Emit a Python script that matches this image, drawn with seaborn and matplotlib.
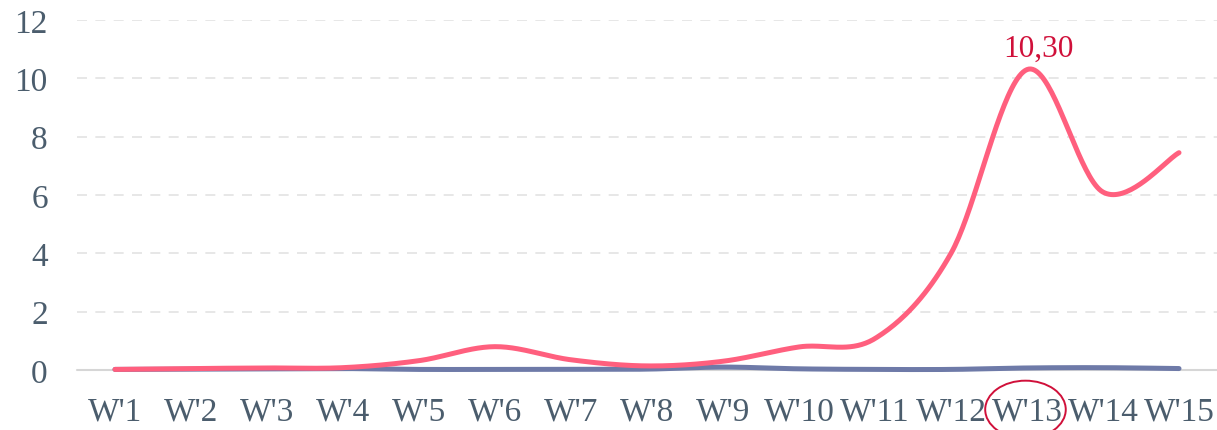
import numpy as np
import pandas as pd
import matplotlib
matplotlib.use("Agg")
import matplotlib.pyplot as plt
from matplotlib.patches import Ellipse
import seaborn as sns

weeks = ["W'1", "W'2", "W'3", "W'4", "W'5", "W'6", "W'7", "W'8",
         "W'9", "W'10", "W'11", "W'12", "W'13", "W'14", "W'15"]
series_pink = [0.02, 0.05, 0.07, 0.08, 0.32, 0.80, 0.35, 0.14,
               0.30, 0.79, 1.08, 4.00, 10.30, 6.10, 7.45]
series_blue = [0.02, 0.03, 0.04, 0.05, 0.02, 0.02, 0.02, 0.03,
               0.10, 0.04, 0.02, 0.02, 0.07, 0.08, 0.05]
y_ticks = [0, 2, 4, 6, 8, 10, 12]
peak_label = "10,30"
peak_index = 12

PINK = "#ff5f7e"
BLUE = "#6e7aa8"
TEXT = "#4b5d6d"
RED = "#d0103a"


def smooth(values, steps=40):
    """Catmull-Rom style smoothing through the given points."""
    y = np.asarray(values, dtype=float)
    x = np.arange(len(y), dtype=float)
    px = np.concatenate([[x[0]], x, [x[-1]]])
    py = np.concatenate([[y[0]], y, [y[-1]]])
    xs, ys = [], []
    for i in range(1, len(px) - 2):
        p0, p1, p2, p3 = ((px[j], py[j]) for j in range(i - 1, i + 3))
        c1 = (p1[0] + (p2[0] - p0[0]) / 6, p1[1] + (p2[1] - p0[1]) / 6)
        c2 = (p2[0] - (p3[0] - p1[0]) / 6, p2[1] - (p3[1] - p1[1]) / 6)
        t = np.linspace(0, 1, steps, endpoint=(i == len(px) - 3))
        b0, b1, b2, b3 = (1 - t) ** 3, 3 * (1 - t) ** 2 * t, 3 * (1 - t) * t ** 2, t ** 3
        xs.append(b0 * p1[0] + b1 * c1[0] + b2 * c2[0] + b3 * p2[0])
        ys.append(b0 * p1[1] + b1 * c1[1] + b2 * c2[1] + b3 * p2[1])
    return np.concatenate(xs), np.concatenate(ys)


sns.set_theme(style="white")
plt.rcParams["font.family"] = ["Liberation Serif", "DejaVu Serif"]

fig = plt.figure(figsize=(12.17, 4.31), dpi=100)
ax = fig.add_axes([77 / 1217, 60 / 431, 1 - 77 / 1217, 350 / 431])

frames = []
for name, vals in (("blue", series_blue), ("pink", series_pink)):
    sx, sy = smooth(vals)
    frames.append(pd.DataFrame({"x": sx, "y": sy, "series": name}))
df = pd.concat(frames, ignore_index=True)

sns.lineplot(data=df, x="x", y="y", hue="series", sort=False,
             palette={"blue": BLUE, "pink": PINK}, linewidth=3.6,
             legend=False, ax=ax, zorder=3)
for line in ax.lines:
    line.set_clip_on(False)
    line.set_solid_capstyle("round")

ax.set_xlim(-0.5, len(weeks) - 0.5)
ax.set_ylim(0, 12)
ax.set_xticks(range(len(weeks)))
ax.set_xticklabels(weeks)
ax.set_yticks(y_ticks)
ax.set_yticklabels([str(v) for v in y_ticks])
ax.set_xlabel("")
ax.set_ylabel("")

for v in y_ticks[1:]:
    ax.axhline(v, color="#e3e3e3", lw=1.2, ls=(0, (6, 5)), zorder=1)
ax.axhline(0, color="#d6d6d6", lw=1.5, zorder=1, clip_on=False)

for s in ax.spines.values():
    s.set_visible(False)
ax.tick_params(axis="both", length=0, labelsize=24, colors=TEXT)
ax.tick_params(axis="y", pad=21)
ax.tick_params(axis="x", pad=19)

ax.annotate(peak_label, (peak_index, series_pink[peak_index]),
            xytext=(8, 5), textcoords="offset points",
            ha="center", va="bottom", fontsize=22.5, color=RED)

# circle around the peak week's tick label
ax.add_patch(Ellipse((peak_index - 0.02, -0.113), width=1.06, height=0.165,
                     transform=ax.get_xaxis_transform(), fill=False,
                     edgecolor=RED, lw=1.4, clip_on=False))

fig.savefig("out.png", dpi=100)
